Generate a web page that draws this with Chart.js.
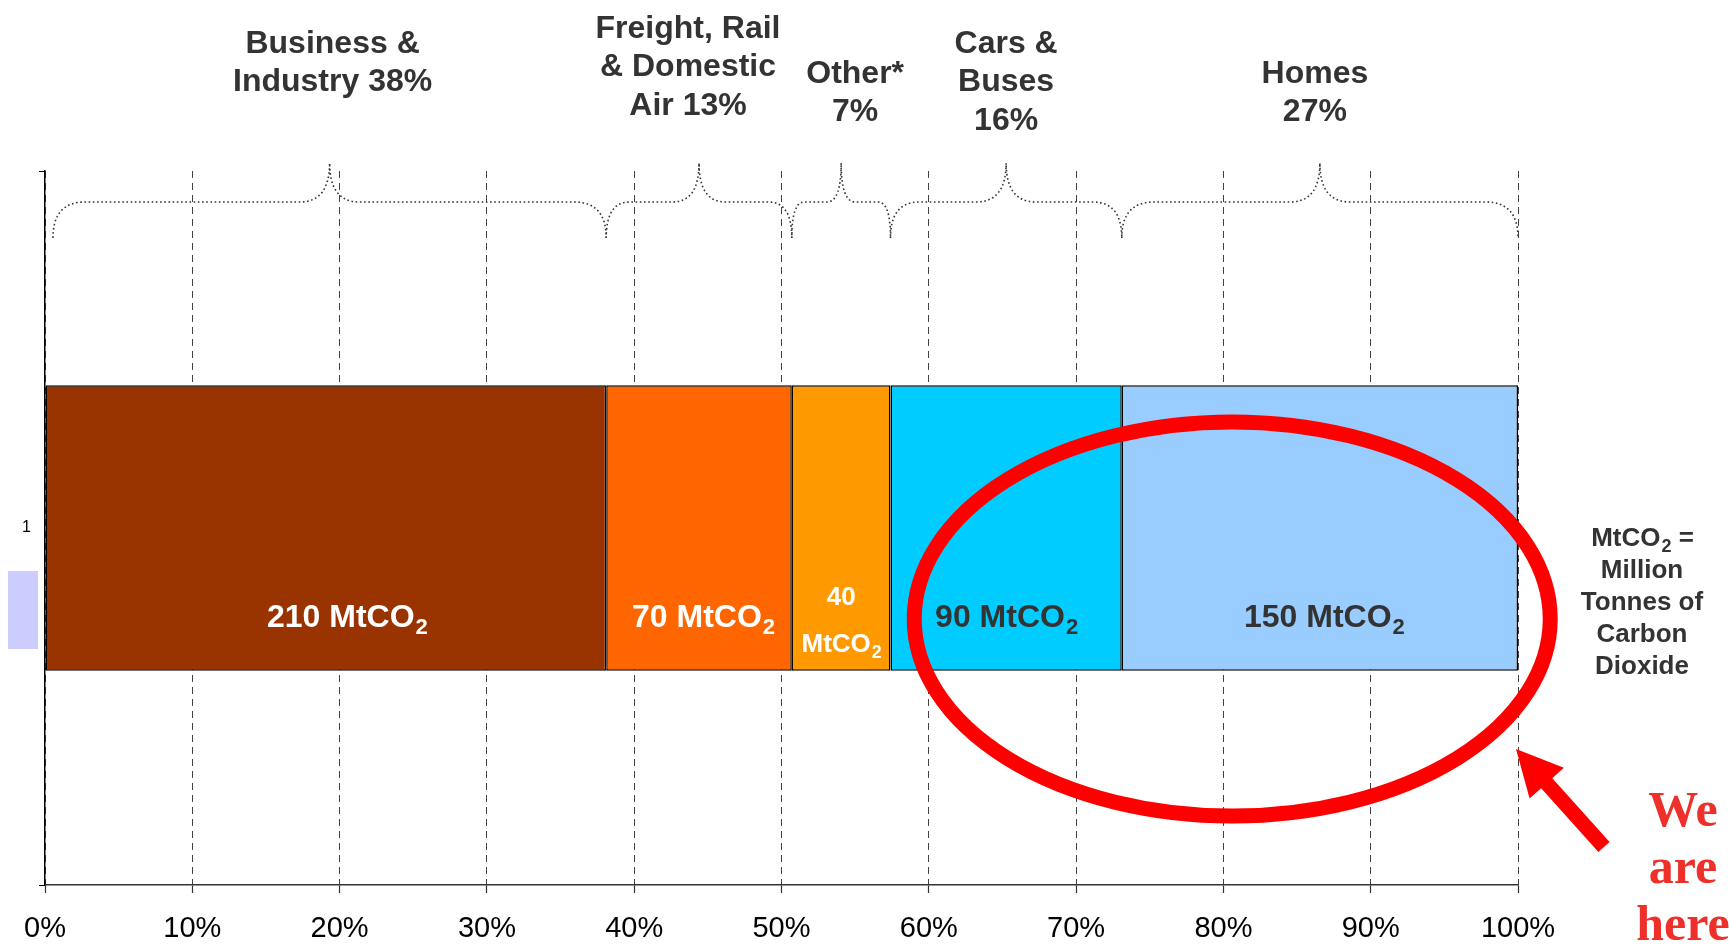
<!DOCTYPE html>
<html>
<head>
<meta charset="utf-8">
<script src="https://cdn.jsdelivr.net/npm/chart.js@4/dist/chart.umd.min.js"></script>
<style>
html, body { margin: 0; padding: 0; background: #fff; }
#wrap { width: 1729px; height: 946px; }
</style>
</head>
<body>
<div id="wrap"><canvas id="co2Chart"></canvas></div>
<script>
// data
var categories = ["1"];
var sectors = ["Business & Industry", "Freight, Rail & Domestic Air", "Other*", "Cars & Buses", "Homes"];
var shares = [38.1, 12.6, 6.7, 15.7, 26.9];      // % of total (bar widths)
var emissions = [210, 70, 40, 90, 150];          // MtCO2
var headings = [
	["Business &", "Industry 38%"],
	["Freight, Rail", "& Domestic", "Air 13%"],
	["Other*", "7%"],
	["Cars &", "Buses", "16%"],
	["Homes", "27%"]
];
var noteLines = ["MtCO2 =", "Million", "Tonnes of", "Carbon", "Dioxide"];
var calloutLines = ["We", "are", "here"];

var colors = ["#993300", "#ff6600", "#ff9900", "#00ccff", "#99ccff"];
var labelColors = ["#fff", "#fff", "#fff", "#333", "#333"];
var headY = [44, 29, 74, 44, 74];
var headDx = [3, -11, 14, 0, -5];
var labelDx = [21, 4, 0, 0, 4];

// text with a subscript "2" after "MtCO"
function co2Text(ctx, txt, cx, cy, size) {
	ctx.font = "bold " + size + "px 'Liberation Sans', Arial, sans-serif";
	var w1 = ctx.measureText(txt).width;
	var small = Math.round(size * 0.68);
	ctx.font = "bold " + small + "px 'Liberation Sans', Arial, sans-serif";
	var w2 = ctx.measureText("2").width;
	var x0 = cx - (w1 + w2) / 2;
	ctx.textAlign = "left";
	ctx.textBaseline = "middle";
	ctx.font = "bold " + size + "px 'Liberation Sans', Arial, sans-serif";
	ctx.fillText(txt, x0, cy);
	ctx.font = "bold " + small + "px 'Liberation Sans', Arial, sans-serif";
	ctx.fillText("2", x0 + w1 + 1, cy + size * 0.32);
}

function brace(ctx, xs, xe, yb, yf, yp) {
	var w = xe - xs;
	var xm = (xs + xe) / 2;
	var r = Math.min(32, w / 8);
	var r2 = Math.min(30, w / 7);
	ctx.beginPath();
	ctx.moveTo(xs, yb);
	ctx.quadraticCurveTo(xs, yf, xs + r, yf);
	ctx.lineTo(xm - r2, yf);
	ctx.quadraticCurveTo(xm, yf, xm, yp);
	ctx.quadraticCurveTo(xm, yf, xm + r2, yf);
	ctx.lineTo(xe - r, yf);
	ctx.quadraticCurveTo(xe, yf, xe, yb);
	ctx.stroke();
}

var annotations = {
	id: "annotations",
	afterDraw: function(chart) {
		var ctx = chart.ctx;
		var xs = chart.scales.x;
		ctx.save();

		// stray legend swatch left of the axis
		ctx.fillStyle = "#ccccff";
		ctx.fillRect(8, 571, 30, 78);

		// braces and headings
		var cum = 0;
		for (var i = 0; i < shares.length; i++) {
			var a = xs.getPixelForValue(cum) + (i === 0 ? 8 : 0);
			var b = xs.getPixelForValue(cum + shares[i]);
			cum += shares[i];
			ctx.strokeStyle = "#333";
			ctx.lineWidth = 1.6;
			ctx.setLineDash([1.6, 2.6]);
			brace(ctx, a, b, 238, 202, 163);
			ctx.setLineDash([]);
			var mid = (a + b) / 2 + headDx[i];
			ctx.fillStyle = "#333";
			ctx.font = "bold 32px 'Liberation Sans', Arial, sans-serif";
			ctx.textAlign = "center";
			ctx.textBaseline = "middle";
			for (var k = 0; k < headings[i].length; k++) {
				ctx.fillText(headings[i][k], mid, headY[i] + k * 38.5);
			}
		}

		// value labels inside the bar segments
		for (var j = 0; j < emissions.length; j++) {
			var el = chart.getDatasetMeta(j).data[0];
			var cx = (el.x + el.base) / 2 + labelDx[j];
			var top = el.y - el.height / 2;
			ctx.fillStyle = labelColors[j];
			if (el.x - el.base < 120) {
				ctx.font = "bold 26px 'Liberation Sans', Arial, sans-serif";
				ctx.textAlign = "center";
				ctx.textBaseline = "middle";
				ctx.fillText(String(emissions[j]), cx, top + el.height * 0.745);
				co2Text(ctx, "MtCO", cx, top + el.height * 0.91, 26);
			} else {
				co2Text(ctx, emissions[j] + " MtCO", cx, top + el.height * 0.815, 32);
			}
		}

		// red ellipse
		ctx.strokeStyle = "#ff0000";
		ctx.lineWidth = 15;
		ctx.beginPath();
		ctx.ellipse(xs.getPixelForValue(80.6), 619, 318, 197, 0, 0, Math.PI * 2);
		ctx.stroke();

		// red arrow
		var tipX = 1516, tipY = 749, tailX = 1604, tailY = 847;
		var ang = Math.atan2(tipY - tailY, tipX - tailX);
		var len = Math.hypot(tipX - tailX, tipY - tailY);
		ctx.save();
		ctx.translate(tailX, tailY);
		ctx.rotate(ang);
		ctx.fillStyle = "#ff0000";
		ctx.beginPath();
		ctx.moveTo(0, -7.5);
		ctx.lineTo(len - 46, -7.5);
		ctx.lineTo(len - 46, -23);
		ctx.lineTo(len, 0);
		ctx.lineTo(len - 46, 23);
		ctx.lineTo(len - 46, 7.5);
		ctx.lineTo(0, 7.5);
		ctx.closePath();
		ctx.fill();
		ctx.restore();

		// unit note
		ctx.fillStyle = "#333";
		ctx.textBaseline = "middle";
		ctx.font = "bold 26px 'Liberation Sans', Arial, sans-serif";
		var wA = ctx.measureText("MtCO").width;
		var wB = ctx.measureText(" =").width;
		ctx.font = "bold 18px 'Liberation Sans', Arial, sans-serif";
		var wS = ctx.measureText("2").width;
		var x0 = 1642 - (wA + wS + wB) / 2;
		ctx.textAlign = "left";
		ctx.font = "bold 26px 'Liberation Sans', Arial, sans-serif";
		ctx.fillText("MtCO", x0, 539);
		ctx.fillText(" =", x0 + wA + wS + 1, 539);
		ctx.font = "bold 18px 'Liberation Sans', Arial, sans-serif";
		ctx.fillText("2", x0 + wA + 1, 547);
		ctx.textAlign = "center";
		ctx.font = "bold 26px 'Liberation Sans', Arial, sans-serif";
		for (var n = 1; n < noteLines.length; n++) {
			ctx.fillText(noteLines[n], 1642, 539 + n * 32);
		}

		// callout
		ctx.fillStyle = "#ee2f2a";
		ctx.font = "bold 50px 'Liberation Serif', 'Times New Roman', serif";
		ctx.textAlign = "center";
		ctx.textBaseline = "alphabetic";
		for (var m = 0; m < calloutLines.length; m++) {
			ctx.fillText(calloutLines[m], 1683, 826 + m * 57);
		}
		ctx.restore();
	}
};

var datasets = sectors.map(function(s, i) {
	return {
		label: s,
		data: [shares[i]],
		backgroundColor: colors[i],
		borderColor: "#000",
		borderWidth: 1.5,
		borderSkipped: false,
		barPercentage: 0.4,
		categoryPercentage: 1
	};
});

var ctx = document.getElementById("co2Chart").getContext("2d");
var myChart = new Chart(ctx, {
	type: "bar",
	data: { labels: categories, datasets: datasets },
	options: {
		indexAxis: "y",
		responsive: true,
		maintainAspectRatio: false,
		animation: false,
		layout: { padding: { top: 171, right: 211, left: 0, bottom: 0 } },
		plugins: { legend: { display: false }, tooltip: { enabled: false } },
		scales: {
			x: {
				stacked: true,
				min: 0,
				max: 100,
				afterFit: function(s) { s.height = 61; },
				ticks: {
					stepSize: 10,
					padding: 19,
					color: "#000",
					font: { family: "'Liberation Sans', Arial, sans-serif", size: 29 },
					callback: function(v) { return v + "%"; }
				},
				grid: { color: "#444", lineWidth: 1, tickLength: 8, tickColor: "#333", tickWidth: 1.2 },
				border: { color: "#333", width: 1.5, dash: [7, 5] }
			},
			y: {
				stacked: true,
				afterFit: function(s) { s.width = 45; },
				ticks: {
					padding: 8,
					color: "#000",
					font: { family: "'Liberation Sans', Arial, sans-serif", size: 16 }
				},
				grid: { drawOnChartArea: false, tickLength: 6, color: "#000", tickWidth: 1 },
				border: { color: "#000", width: 1.5 }
			}
		}
	},
	plugins: [annotations]
});
</script>
</body>
</html>
